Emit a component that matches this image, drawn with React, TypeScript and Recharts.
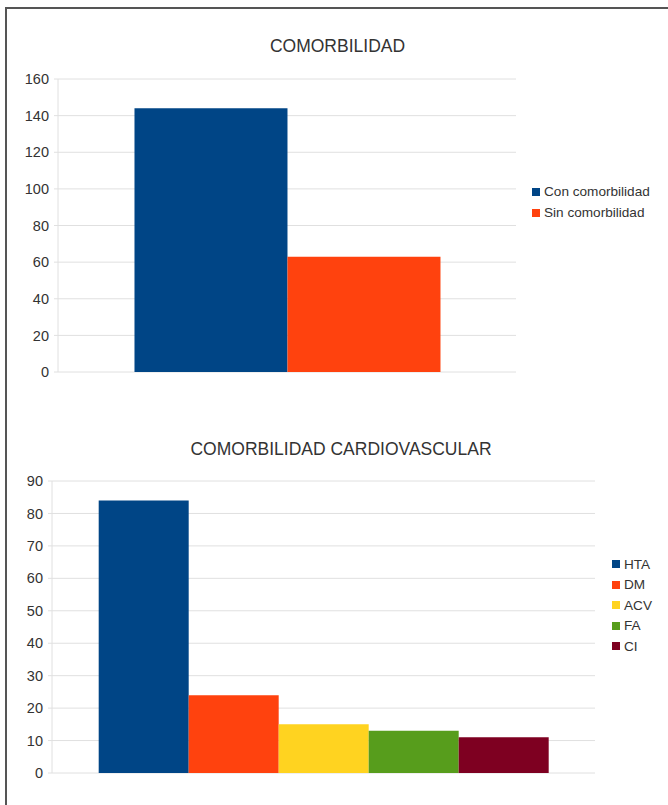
import React from "react";
import { BarChart, Bar, XAxis, YAxis, CartesianGrid } from "recharts";

// Comorbidity totals
const comorbidityCategories = [""];
const conComorbilidad = [144];
const sinComorbilidad = [63];
const comorbidityTicks = [0, 20, 40, 60, 80, 100, 120, 140, 160];

// Cardiovascular comorbidity breakdown
const cvCategories = [""];
const hta = [84];
const dm = [24];
const acv = [15];
const fa = [13];
const ci = [11];
const cvTicks = [0, 10, 20, 30, 40, 50, 60, 70, 80, 90];

const FONT = "'Liberation Sans', Arial, sans-serif";
const GRID = "#e0e0e0";
const TEXT = "#333333";

const series1 = [
  { key: "con", name: "Con comorbilidad", color: "#004586", values: conComorbilidad },
  { key: "sin", name: "Sin comorbilidad", color: "#ff420e", values: sinComorbilidad },
];

const series2 = [
  { key: "hta", name: "HTA", color: "#004586", values: hta },
  { key: "dm", name: "DM", color: "#ff420e", values: dm },
  { key: "acv", name: "ACV", color: "#ffd320", values: acv },
  { key: "fa", name: "FA", color: "#579d1c", values: fa },
  { key: "ci", name: "CI", color: "#7e0021", values: ci },
];

function buildRows(categories: string[], series: { key: string; values: number[] }[]) {
  return categories.map((name, i) => {
    const row: Record<string, string | number> = { name };
    series.forEach((s) => {
      row[s.key] = s.values[i];
    });
    return row;
  });
}

const data1 = buildRows(comorbidityCategories, series1);
const data2 = buildRows(cvCategories, series2);

function LegendBox({
  items,
  left,
  top,
  gap,
}: {
  items: { name: string; color: string }[];
  left: number;
  top: number;
  gap: number;
}) {
  return (
    <div style={{ position: "absolute", left, top, fontFamily: FONT, fontSize: 13.6, color: TEXT }}>
      {items.map((it) => (
        <div key={it.name} style={{ display: "flex", alignItems: "center", height: gap, whiteSpace: "nowrap" }}>
          <span style={{ display: "inline-block", width: 8, height: 8, background: it.color, marginRight: 4 }} />
          <span>{it.name}</span>
        </div>
      ))}
    </div>
  );
}

const tickStyle = { fill: TEXT, fontSize: 14.5, fontFamily: FONT };

export default function App() {
  return (
    <div
      style={{
        position: "absolute",
        left: 0,
        top: 0,
        width: 668,
        height: 805,
        background: "#ffffff",
        overflow: "hidden",
      }}
    >
      {/* frame lines */}
      <div style={{ position: "absolute", left: 5, top: 7, width: 663, height: 2, background: "#555" }} />
      <div style={{ position: "absolute", left: 5, top: 7, width: 2, height: 798, background: "#555" }} />

      <div
        style={{
          position: "absolute",
          left: 0,
          top: 36,
          width: 675,
          textAlign: "center",
          fontFamily: FONT,
          fontSize: 17.5,
          color: TEXT,
        }}
      >
        COMORBILIDAD
      </div>

      <div style={{ position: "absolute", left: 0, top: 0 }}>
        <BarChart
          width={668}
          height={400}
          data={data1}
          margin={{ top: 79, right: 152, bottom: 28, left: 8 }}
          barGap={0}
          barCategoryGap="16.7%"
        >
          <CartesianGrid vertical={false} stroke={GRID} />
          <XAxis dataKey="name" tick={false} tickLine={false} axisLine={{ stroke: GRID }} height={0} />
          <YAxis
            width={50}
            domain={[0, 160]}
            ticks={comorbidityTicks}
            interval={0}
            tick={tickStyle}
            tickSize={4}
            tickMargin={5}
            tickLine={{ stroke: GRID }}
            axisLine={{ stroke: GRID }}
          />
          <YAxis
            yAxisId="edge"
            orientation="right"
            width={0}
            domain={[0, 160]}
            tick={false}
            tickLine={false}
            axisLine={{ stroke: GRID }}
          />
          {series1.map((s) => (
            <Bar key={s.key} dataKey={s.key} name={s.name} fill={s.color} isAnimationActive={false} />
          ))}
        </BarChart>
      </div>

      <LegendBox items={series1} left={532} top={181} gap={21} />

      <div
        style={{
          position: "absolute",
          left: 0,
          top: 439,
          width: 682,
          textAlign: "center",
          fontFamily: FONT,
          fontSize: 17.5,
          color: TEXT,
        }}
      >
        COMORBILIDAD CARDIOVASCULAR
      </div>

      <div style={{ position: "absolute", left: 0, top: 400 }}>
        <BarChart
          width={668}
          height={405}
          data={data2}
          margin={{ top: 81, right: 73, bottom: 32, left: 2 }}
          barGap={0}
          barCategoryGap="8.6%"
        >
          <CartesianGrid vertical={false} stroke={GRID} />
          <XAxis dataKey="name" tick={false} tickLine={false} axisLine={{ stroke: GRID }} height={0} />
          <YAxis
            width={50}
            domain={[0, 90]}
            ticks={cvTicks}
            interval={0}
            tick={tickStyle}
            tickSize={4}
            tickMargin={5}
            tickLine={{ stroke: GRID }}
            axisLine={{ stroke: GRID }}
          />
          <YAxis
            yAxisId="edge"
            orientation="right"
            width={0}
            domain={[0, 90]}
            tick={false}
            tickLine={false}
            axisLine={{ stroke: GRID }}
          />
          {series2.map((s) => (
            <Bar key={s.key} dataKey={s.key} name={s.name} fill={s.color} isAnimationActive={false} />
          ))}
        </BarChart>
      </div>

      <LegendBox items={series2} left={612} top={554} gap={20.5} />
    </div>
  );
}
